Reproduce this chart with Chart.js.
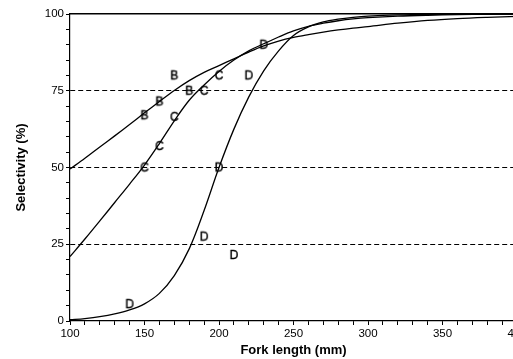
<!DOCTYPE html>
<html>
<head>
<meta charset="utf-8">
<script src="https://cdn.jsdelivr.net/npm/chart.js@4/dist/chart.umd.min.js"></script>
<style>
  html, body { margin: 0; padding: 0; background: #fff; overflow: hidden; }
  #chart { display: block; }
</style>
</head>
<body>
<canvas id="chart" width="530" height="359"></canvas>
<script>
const lengths = [100, 110, 120, 130, 140, 150, 160, 170, 180, 190, 200, 210, 220, 230,
  240, 250, 260, 270, 280, 290, 300, 320, 340, 360, 380, 400];

// fitted selectivity curves (%)
const curveB = [49.5, 53, 56.7, 60.3, 64, 67.8, 71.5, 75.1, 78.3, 81, 83.2, 85.4, 87.6, 89.6,
  91.2, 92.4, 93.3, 94.1, 94.8, 95.4, 95.9, 97, 97.9, 98.5, 98.9, 99.2];
const curveC = [21, 26.7, 32.6, 38.6, 44.6, 50.8, 57.8, 65.2, 71.9, 76.9, 81.3, 85, 88, 90.3,
  92.5, 94.5, 96, 97, 97.8, 98.4, 98.8, 99.3, 99.6, 99.8, 99.9, 100];
const curveD = [0.4, 0.8, 1.4, 2.3, 3.6, 5.6, 9, 14.8, 23.5, 36, 50, 62.5, 73, 81.5,
  88, 93, 95.8, 97.4, 98.3, 98.9, 99.3, 99.7, 99.85, 99.9, 99.95, 100];

// observed points, plotted as letters
const markB_x = [150, 160, 170, 180];
const markB_y = [67, 71.5, 80, 75];
const markC_x = [150, 160, 170, 190, 200];
const markC_y = [50, 57, 66.5, 75, 80];
const markD_x = [140, 190, 200, 210, 220, 230];
const markD_y = [5.5, 27.5, 50, 21.5, 80, 90];

const yTicks = [0, 25, 50, 75, 100];
const xTicks = [100, 150, 200, 250, 300, 350, 400];
const dashedAt = [25, 50, 75];

const FONT = "'Liberation Sans', Arial, sans-serif";

function pairs(xs, ys) {
  return xs.map((x, i) => ({ x: x, y: ys[i] }));
}

// small canvas with a letter, used as point style
function letterIcon(ch) {
  const c = document.createElement('canvas');
  c.width = 14;
  c.height = 14;
  const g = c.getContext('2d');
  g.fillStyle = '#000';
  g.strokeStyle = '#000';
  g.lineWidth = 0.4;
  g.font = '12px ' + FONT;
  g.textAlign = 'center';
  g.textBaseline = 'middle';
  g.fillText(ch, 7, 7.5);
  g.strokeText(ch, 7, 7.5);
  return c;
}

function curve(ys) {
  return {
    data: pairs(lengths, ys),
    borderColor: '#000',
    borderWidth: 1.3,
    pointRadius: 0,
    fill: false,
    tension: 0.35
  };
}

function marks(xs, ys, ch) {
  return {
    data: pairs(xs, ys),
    showLine: false,
    pointStyle: letterIcon(ch),
    pointRadius: 6
  };
}

new Chart(document.getElementById('chart'), {
  type: 'line',
  data: {
    datasets: [
      curve(curveB),
      curve(curveC),
      curve(curveD),
      marks(markB_x, markB_y, 'B'),
      marks(markC_x, markC_y, 'C'),
      marks(markD_x, markD_y, 'D')
    ]
  },
  options: {
    responsive: false,
    animation: false,
    layout: { padding: { top: 14, right: 13, left: 0, bottom: 0 } },
    plugins: { legend: { display: false }, tooltip: { enabled: false } },
    scales: {
      x: {
        type: 'linear',
        min: 100,
        max: 400,
        afterFit: s => { s.height = 38; },
        ticks: {
          stepSize: 10,
          autoSkip: false,
          maxRotation: 0,
          padding: 2,
          color: '#000',
          font: { family: FONT, size: 11.5 },
          callback: v => xTicks.includes(v) ? String(v) : ''
        },
        grid: { drawOnChartArea: false, tickLength: 4, tickColor: '#000', color: '#000' },
        border: { color: '#000', width: 1.2 },
        title: {
          display: true,
          text: 'Fork length (mm)',
          color: '#000',
          font: { family: FONT, size: 13, weight: 'bold' },
          padding: { top: 0, bottom: 1 }
        }
      },
      x2: {
        type: 'linear',
        position: 'top',
        min: 100,
        max: 400,
        afterFit: s => { s.height = 0; },
        ticks: { display: false },
        grid: { drawOnChartArea: false, drawTicks: false },
        border: { color: '#000', width: 1.5 }
      },
      y: {
        min: 0,
        max: 100,
        afterFit: s => { s.width = 70; },
        ticks: {
          stepSize: 5,
          autoSkip: false,
          padding: 2,
          color: '#000',
          font: { family: FONT, size: 11.5 },
          callback: v => yTicks.includes(v) ? String(v) : ''
        },
        grid: {
          tickLength: 4,
          tickColor: '#000',
          lineWidth: 1,
          color: ctx => dashedAt.includes(ctx.tick && ctx.tick.value) ? '#000' : 'rgba(0,0,0,0)'
        },
        border: { color: '#000', width: 1.2, dash: [5, 3] },
        title: {
          display: true,
          text: 'Selectivity (%)',
          color: '#000',
          font: { family: FONT, size: 13, weight: 'bold' },
          padding: { top: 14, bottom: 0 }
        }
      }
    }
  }
});
</script>
</body>
</html>
